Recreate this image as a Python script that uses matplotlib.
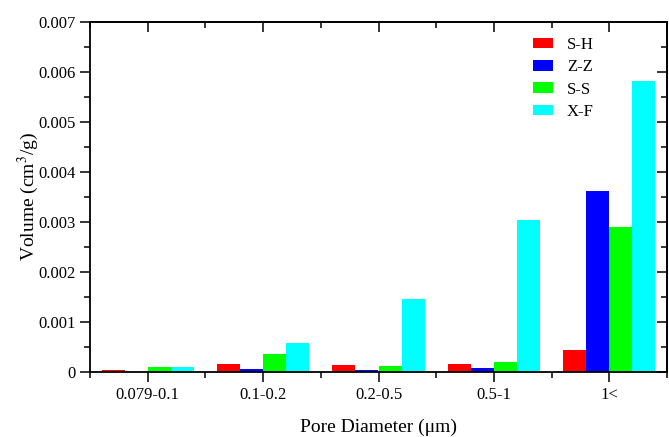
import numpy as np
import matplotlib
matplotlib.use("Agg")
import matplotlib.pyplot as plt
from matplotlib.ticker import MultipleLocator, FuncFormatter

plt.rcParams['font.family'] = ['Liberation Serif', 'DejaVu Serif']
plt.rcParams['mathtext.fontset'] = 'stix'

# pore size classes
categories = ["0.079-0.1", "0.1-0.2", "0.2-0.5", "0.5-1", "1<"]

# pore volume (cm3/g) per sample
s_h = [0.00004, 0.000167, 0.000147, 0.00016, 0.00044]
z_z = [0.00001, 0.00006, 0.000047, 0.000087, 0.00363]
s_s = [0.0001, 0.000353, 0.000127, 0.0002, 0.00291]
x_f = [0.0001, 0.000573, 0.00146, 0.00304, 0.00582]

series = [("S-H", s_h, "#ff0000"),
          ("Z-Z", z_z, "#0000ff"),
          ("S-S", s_s, "#00ff00"),
          ("X-F", x_f, "#00ffff")]

fig = plt.figure(figsize=(6.69, 4.37), dpi=100)
ax = fig.add_axes([90/669, 1 - 372/437, (667-90)/669, (372-22)/437])

x = np.arange(len(categories))
w = 0.2
for i, (name, vals, col) in enumerate(series):
    ax.bar(x + (i - 1.5) * w, vals, width=w, color=col, label=name, linewidth=0)

ax.set_xlim(-0.5, 4.5)
ax.set_ylim(0, 0.007)
ax.set_xticks(x)
ax.set_xticklabels(categories)
ax.xaxis.set_minor_locator(MultipleLocator(1.0, offset=0.5))
ax.yaxis.set_major_locator(MultipleLocator(0.001))
ax.yaxis.set_minor_locator(MultipleLocator(0.0005))
ax.yaxis.set_major_formatter(FuncFormatter(lambda v, p: "0" if abs(v) < 1e-9 else "%.3f" % v))

for s in ax.spines.values():
    s.set_linewidth(1.3)

ax.tick_params(which="both", direction="out", top=False, right=False, width=1.1, labelsize=12)
ax.tick_params(which="major", length=7)
ax.tick_params(which="minor", length=4)

# mirrored inward ticks on top and right
ax_top = ax.secondary_xaxis("top")
ax_top.set_xticks(x)
ax_top.xaxis.set_minor_locator(MultipleLocator(1.0, offset=0.5))
ax_top.tick_params(which="both", direction="in", labeltop=False, width=1.1)
ax_top.tick_params(which="major", length=7)
ax_top.tick_params(which="minor", length=4)
ax_top.spines["top"].set_linewidth(1.3)

ax_r = ax.secondary_yaxis("right")
ax_r.yaxis.set_major_locator(MultipleLocator(0.001))
ax_r.yaxis.set_minor_locator(MultipleLocator(0.0005))
ax_r.tick_params(which="both", direction="in", labelright=False, width=1.1)
ax_r.tick_params(which="major", length=7)
ax_r.tick_params(which="minor", length=4)
ax_r.spines["right"].set_linewidth(1.3)

ax.set_xlabel("Pore Diameter (μm)", fontsize=14, labelpad=11.5)
ax.set_ylabel("Volume (cm$^3$/g)", fontsize=14, labelpad=-2)

ax.legend(loc="upper left", bbox_to_anchor=(0.756, 0.976), frameon=False, fontsize=12,
          handlelength=1.2, handleheight=0.6, labelspacing=0.375, handletextpad=0.85,
          borderaxespad=0)

fig.savefig("out.png", dpi=100)
